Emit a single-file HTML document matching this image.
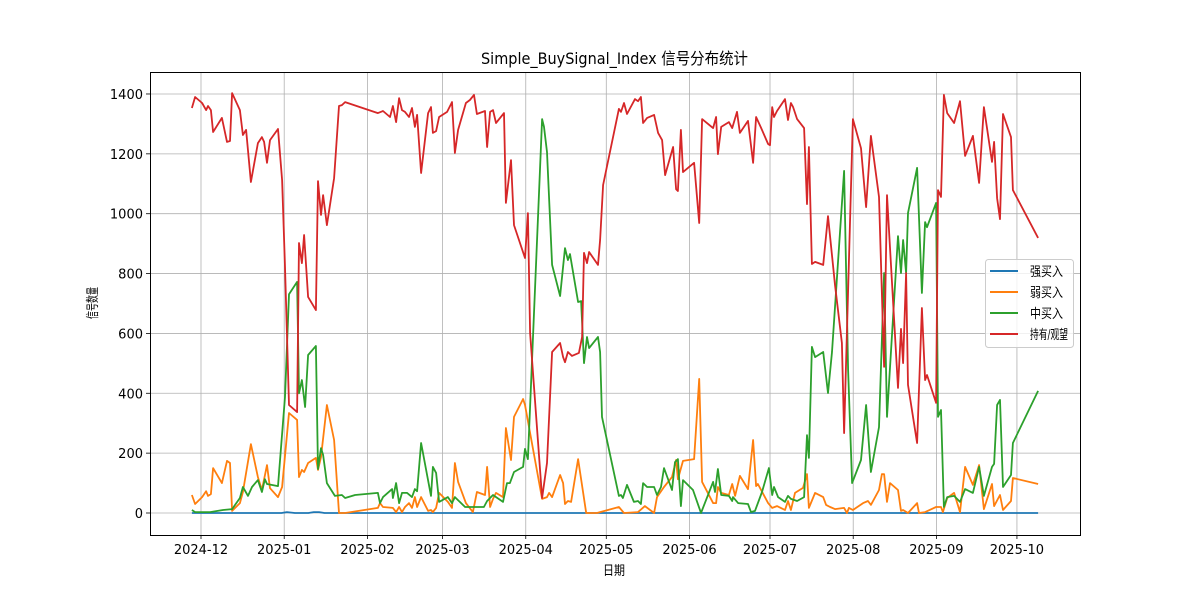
<!DOCTYPE html>
<html><head><meta charset="utf-8"><style>
body{margin:0;background:#fff;}
svg text{font-family:"DejaVu Sans","Liberation Sans","Noto Sans CJK SC",sans-serif;}
</style></head><body>
<svg id="chart" width="1200" height="600" xmlns="http://www.w3.org/2000/svg">
<rect width="1200" height="600" fill="#fff"/>
<g id="grid"></g>
<g id="series"></g>
<rect x="150.5" y="72.5" width="930" height="463" fill="none" stroke="#000" stroke-width="1"/>
<g id="axes"></g>
<text x="481" y="64" font-size="16" textLength="267" lengthAdjust="spacingAndGlyphs">Simple_BuySignal_Index 信号分布统计</text>
<text x="603" y="575" font-size="13" textLength="22" lengthAdjust="spacingAndGlyphs">日期</text>
<text x="82" y="304" font-size="13" textLength="32" lengthAdjust="spacingAndGlyphs" transform="rotate(-90 97 304)" dx="0">信号数量</text>
<g id="legend">
<rect x="985.5" y="259.5" width="88" height="88" rx="3" fill="#fff" fill-opacity="0.8" stroke="#ccc"/>
</g>
</svg>
<script>
const monthTicks = ["2024-12","2025-01","2025-02","2025-03","2025-04","2025-05","2025-06","2025-07","2025-08","2025-09","2025-10"];
const monthTickDays = [0,31,62,90,121,151,182,212,243,274,304];
const yTicks = [0,200,400,600,800,1000,1200,1400];
const seriesNames = ["强买入","弱买入","中买入","持有/观望"];
const seriesColors = ["#1f77b4","#ff7f0e","#2ca02c","#d62728"];

const blueDays = [-3.4,30,32,35,40,42,44,46,60,311.9];
const blueVals = [0,0,3,0,0,3,3,0,0,0];

const orangeDays = [-3.4,-2.2,0.4,1.9,2.6,3.7,4.5,7.8,9.7,10.8,11.6,14.5,15.6,18.6,21.2,22.7,24.6,25.7,28.7,30.2,32.8,35.8,36.5,37.6,38.4,39.9,42.8,43.6,44.7,46.9,49.6,51.4,53.7,65.9,66.7,67.8,71.5,72.7,73.8,74.9,76.0,77.5,78.6,79.7,80.5,82.0,84.6,85.7,86.4,87.6,88.7,92.0,93.5,94.6,95.8,98.7,101.3,102.8,105.8,106.6,107.7,108.8,109.9,112.5,113.6,115.5,116.6,120.0,120.7,127.1,128.9,129.7,130.8,133.8,134.9,135.6,136.7,137.9,140.5,143.5,147.5,155.7,157.6,162.8,165.4,168.8,169.9,172.5,175.5,177.0,177.7,179.6,183.7,185.6,186.7,190.8,191.9,192.6,193.8,196.7,197.9,199.0,200.8,203.8,205.7,206.8,207.5,211.3,212.8,214.6,217.6,218.7,219.8,221.3,224.3,225.8,226.5,228.8,231.8,232.9,234.4,236.2,239.6,240.7,241.4,242.9,246.7,248.5,249.6,252.6,253.7,254.5,255.6,256.7,259.7,260.8,261.6,263.4,266.8,267.5,269.8,273.9,275.7,276.4,278.0,280.6,282.8,284.7,287.6,289.9,291.7,294.7,295.5,297.7,298.8,301.8,302.5,311.9];
const orangeVals = [60,30,53,73,57,63,150,100,174,167,7,33,70,230,120,77,160,83,53,87,334,311,120,144,137,167,184,144,187,361,244,0,0,17,33,20,17,3,20,3,20,33,17,53,20,53,7,10,3,17,67,37,17,167,104,33,3,70,60,154,20,47,67,53,284,177,321,381,361,47,53,67,53,127,100,30,40,37,180,0,0,20,0,3,23,0,53,87,120,177,113,174,180,448,104,33,33,87,67,60,97,57,124,80,244,90,97,33,17,23,10,40,10,67,84,130,17,67,53,27,20,13,17,0,17,10,33,40,27,77,130,130,37,100,77,7,10,0,33,0,3,20,20,3,50,67,3,154,94,160,13,97,23,60,10,40,117,97];

const greenDays = [-3.4,-2.2,3.4,8.2,11.6,14.5,15.6,17.5,19.0,21.2,22.7,23.8,24.6,28.7,31.3,32.8,35.8,36.5,37.6,38.8,39.9,42.8,43.6,44.7,45.5,46.9,49.9,52.5,53.7,57.4,65.9,66.7,67.8,71.2,71.5,72.7,73.8,74.9,76.8,78.6,79.7,80.5,82.0,85.7,86.4,87.6,88.7,92.0,93.5,94.6,98.4,105.4,106.6,108.8,112.5,114.0,115.1,116.6,120.0,120.7,121.8,127.1,127.8,128.9,130.8,133.8,135.6,136.7,137.5,140.5,141.6,142.7,143.8,144.6,147.9,148.7,149.4,155.7,156.5,157.2,158.7,161.3,162.8,163.9,164.7,166.2,168.8,169.9,171.4,172.5,175.5,176.6,177.7,178.8,179.6,183.3,186.3,190.8,191.5,192.6,193.8,196.7,197.9,198.2,200.1,203.8,204.9,206.4,209.0,211.6,212.8,213.5,215.0,217.6,218.7,219.8,222.1,224.7,225.8,226.5,227.6,228.8,231.8,233.6,235.1,239.6,241.1,242.6,245.9,247.8,249.6,252.6,254.5,255.6,259.7,260.8,261.6,262.7,263.4,266.8,268.6,269.8,270.5,273.9,274.6,275.7,276.8,278.0,280.6,282.8,284.7,287.6,289.9,291.7,294.7,295.5,296.6,297.7,298.8,301.8,302.5,311.9];
const greenVals = [10,3,3,10,13,50,87,57,87,110,70,113,97,90,388,731,772,400,444,354,528,558,147,217,194,100,57,60,50,60,67,33,53,80,50,100,33,67,67,53,80,73,234,57,154,134,37,53,33,53,20,20,40,60,37,100,100,137,154,214,180,1316,1290,1206,829,725,885,845,865,705,708,501,588,551,588,538,321,57,60,50,94,37,40,30,100,87,87,60,87,150,77,170,180,23,110,77,0,104,70,147,60,57,40,53,33,30,3,7,70,150,60,87,53,37,57,47,40,53,260,184,555,521,538,401,538,1143,478,100,177,361,137,287,802,321,925,802,912,802,1002,1153,735,972,955,1036,321,344,20,53,57,37,80,67,154,57,154,164,361,378,87,127,234,408];

const redDays = [-3.4,-2.2,0.4,1.9,2.6,3.7,4.5,7.8,9.7,10.8,11.6,14.5,15.6,16.8,18.6,21.2,22.7,23.5,24.6,25.7,28.7,30.2,31.3,32.8,35.8,36.5,37.6,38.4,39.9,42.8,43.6,44.7,45.5,46.9,49.6,51.4,52.5,53.7,65.9,67.8,70.4,71.5,72.7,73.8,74.9,76.0,77.5,78.6,79.7,80.5,82.0,84.6,85.7,86.4,87.6,88.7,91.7,93.5,94.6,95.8,98.7,100.2,101.7,102.8,105.8,106.6,107.7,108.8,109.9,112.9,113.6,115.5,116.6,120.7,121.8,122.6,127.1,128.9,130.8,133.8,134.9,135.6,136.7,138.2,140.8,142.0,142.7,143.8,144.6,147.9,148.7,149.8,155.7,156.5,157.6,158.7,161.7,162.8,163.9,164.7,166.2,168.8,170.3,171.8,172.9,175.9,177.0,177.7,178.8,179.6,183.7,185.6,186.7,190.8,191.9,192.6,193.8,196.7,197.9,199.7,200.8,203.8,205.7,206.8,208.7,211.3,212.0,212.8,213.5,214.6,217.6,218.7,219.8,220.6,222.1,224.7,225.8,226.5,227.6,228.8,231.8,233.6,236.2,238.8,239.6,242.9,245.9,247.8,249.6,252.6,254.5,255.6,259.7,260.8,261.6,262.7,263.4,266.8,268.6,269.8,270.5,273.9,274.6,275.7,276.8,278.0,280.6,282.8,284.7,287.6,289.9,291.7,294.7,295.5,296.6,297.7,298.8,301.8,302.5,311.9];
const redVals = [1353,1390,1370,1346,1360,1346,1273,1320,1240,1243,1403,1346,1263,1280,1106,1236,1256,1240,1170,1246,1283,1113,822,361,337,902,835,929,722,678,1109,996,1062,962,1119,1360,1363,1373,1336,1343,1323,1360,1306,1386,1346,1340,1323,1353,1290,1330,1136,1336,1356,1270,1276,1323,1340,1373,1203,1280,1370,1380,1397,1333,1343,1223,1340,1346,1303,1336,1036,1179,962,852,1002,601,50,167,538,568,521,504,538,525,535,588,869,835,872,829,912,1096,1350,1340,1370,1333,1383,1376,1390,1303,1320,1330,1270,1246,1129,1223,1082,1076,1280,1139,1170,969,1316,1286,1323,1199,1290,1306,1286,1340,1270,1310,1170,1323,1286,1233,1229,1356,1323,1343,1383,1313,1370,1356,1316,1286,1032,1223,832,839,829,992,762,568,267,1316,1219,1022,1260,1056,488,1062,418,615,501,802,428,234,685,444,461,368,1079,1056,1397,1336,1303,1376,1193,1260,1103,1356,1173,1240,1052,982,1333,1256,1079,919];

const NS = "http://www.w3.org/2000/svg";
function xScale(d){ return 201 + d * 2.684; }
function yScale(v){ return 513 - v * 0.2993; }
function mk(tag, attrs, parent){
  const el = document.createElementNS(NS, tag);
  for (const k in attrs) el.setAttribute(k, attrs[k]);
  parent.appendChild(el);
  return el;
}
const grid = document.getElementById('grid');
const axes = document.getElementById('axes');
const seriesG = document.getElementById('series');
const legend = document.getElementById('legend');

yTicks.forEach(function(t){
  const y = yScale(t);
  const gl = mk('line', {x1:150, x2:1080, y1:y, y2:y, stroke:'#b0b0b0', 'stroke-width':0.8}, grid);
  
  
  mk('line', {x1:146, x2:150, y1:y, y2:y, stroke:'#000', 'stroke-width':0.8}, axes);
  const tx = mk('text', {x:143, y:y+5, 'text-anchor':'end', 'font-size':13}, axes);
  tx.textContent = t;
  
  
});
monthTicks.forEach(function(m, i){
  const x = xScale(monthTickDays[i]);
  const gl = mk('line', {x1:x, x2:x, y1:72, y2:535, stroke:'#b0b0b0', 'stroke-width':0.8}, grid);
  
  
  mk('line', {x1:x, x2:x, y1:535, y2:539, stroke:'#000', 'stroke-width':0.8}, axes);
  const tx = mk('text', {x:x, y:554, 'text-anchor':'middle', 'font-size':13}, axes);
  tx.textContent = m;
  
  
});

function drawLine(days, vals, color, name){
  const pts = days.map(function(d, i){ return xScale(d).toFixed(1) + ',' + yScale(vals[i]).toFixed(1); }).join(' ');
  const pl = mk('polyline', {points:pts, fill:'none', stroke:color, 'stroke-width':1.8, 'stroke-linejoin':'round'}, seriesG);
  
  
}
drawLine(blueDays, blueVals, seriesColors[0], 'strong-buy-line');
drawLine(orangeDays, orangeVals, seriesColors[1], 'weak-buy-line');
drawLine(greenDays, greenVals, seriesColors[2], 'mid-buy-line');
drawLine(redDays, redVals, seriesColors[3], 'hold-line');

const legendTextWidths = [33,33,33,38];
seriesNames.forEach(function(n, i){
  const y = 271 + i * 21;
  const g = mk('g', {}, legend);
  
  
  mk('line', {x1:990, x2:1018, y1:y, y2:y, stroke:seriesColors[i], 'stroke-width':2}, g);
  const t = mk('text', {x:1030, y:y+5, 'font-size':13, textLength:legendTextWidths[i], lengthAdjust:'spacingAndGlyphs'}, g);
  t.textContent = n;
});
</script>
</body></html>
